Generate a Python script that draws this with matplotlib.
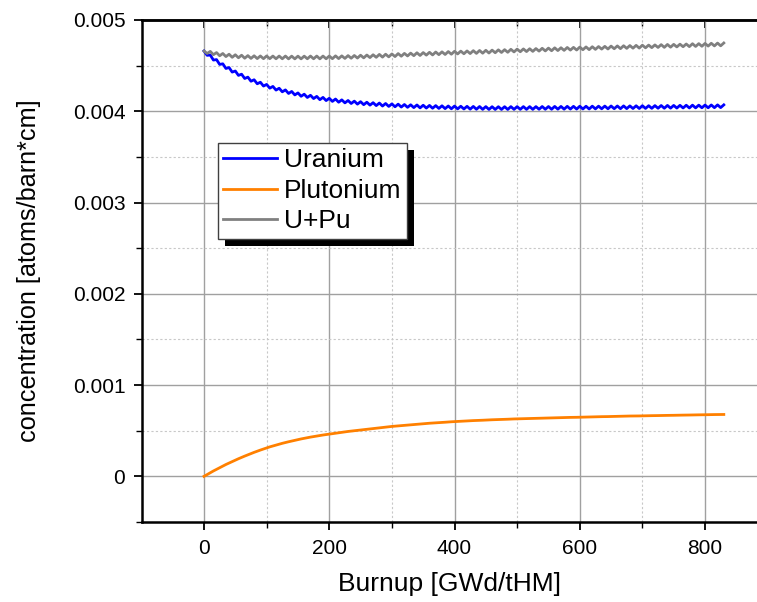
import numpy as np
import matplotlib
matplotlib.use('Agg')
import matplotlib.pyplot as plt
from matplotlib.patches import Rectangle
from matplotlib.transforms import IdentityTransform
from matplotlib.ticker import MultipleLocator, FuncFormatter

plt.rcParams['font.family'] = ['Liberation Sans', 'DejaVu Sans']

# concentrations in 1e-6 atoms/barn*cm, one value every 5 GWd/tHM (0 ... 830)
burnup_step = 5
uranium = [
    4660, 4613, 4616, 4561, 4566, 4513, 4520, 4469, 4479, 4429,
    4441, 4393, 4406, 4359, 4374, 4329, 4345, 4301, 4318, 4276,
    4294, 4253, 4272, 4232, 4252, 4213, 4234, 4195, 4217, 4179,
    4201, 4164, 4187, 4151, 4175, 4139, 4163, 4127, 4152, 4117,
    4142, 4108, 4134, 4099, 4125, 4092, 4118, 4085, 4111, 4078,
    4105, 4072, 4099, 4067, 4094, 4062, 4090, 4057, 4085, 4053,
    4081, 4049, 4078, 4046, 4074, 4043, 4071, 4040, 4069, 4037,
    4066, 4035, 4064, 4033, 4062, 4031, 4060, 4029, 4058, 4027,
    4057, 4026, 4055, 4025, 4054, 4023, 4053, 4022, 4052, 4021,
    4051, 4020, 4050, 4020, 4050, 4020, 4050, 4020, 4051, 4021,
    4051, 4021, 4051, 4021, 4051, 4021, 4051, 4022, 4052, 4022,
    4052, 4022, 4053, 4023, 4053, 4023, 4054, 4024, 4054, 4024,
    4055, 4025, 4055, 4025, 4056, 4026, 4056, 4027, 4057, 4027,
    4058, 4028, 4058, 4028, 4059, 4029, 4059, 4030, 4060, 4030,
    4061, 4031, 4061, 4032, 4062, 4033, 4063, 4033, 4064, 4034,
    4064, 4035, 4065, 4036, 4066, 4036, 4067, 4037, 4067, 4038,
    4068, 4038, 4069, 4039, 4070, 4040, 4070,
]
plutonium = [
    0, 20, 40, 59, 77, 95, 113, 130, 146, 162,
    178, 193, 208, 222, 236, 250, 263, 276, 288, 300,
    312, 323, 333, 343, 353, 362, 371, 379, 387, 395,
    403, 410, 417, 424, 430, 436, 442, 447, 453, 458,
    463, 468, 473, 478, 482, 487, 492, 496, 500, 505,
    509, 513, 517, 521, 525, 529, 533, 536, 540, 543,
    547, 550, 554, 557, 560, 563, 566, 569, 572, 574,
    577, 580, 582, 584, 587, 589, 591, 593, 596, 598,
    600, 602, 604, 605, 607, 609, 611, 612, 614, 615,
    617, 618, 620, 621, 623, 624, 625, 626, 628, 629,
    630, 631, 632, 633, 634, 635, 636, 637, 638, 639,
    640, 641, 642, 642, 643, 644, 645, 646, 646, 647,
    648, 649, 650, 650, 651, 652, 653, 654, 654, 655,
    656, 657, 658, 658, 659, 660, 661, 661, 662, 662,
    663, 664, 664, 665, 665, 666, 667, 667, 668, 668,
    669, 670, 670, 671, 671, 672, 673, 673, 674, 674,
    675, 676, 676, 677, 677, 677, 678,
]

burnup = np.arange(len(uranium)) * burnup_step
u = np.array(uranium) * 1e-6
pu = np.array(plutonium) * 1e-6
upu = u + pu

fig = plt.figure(figsize=(7.57, 6.02), dpi=100)
ax = fig.add_axes([0.1876, 0.1329, 1.0 - 0.1876, 0.9668 - 0.1329])

ax.plot(burnup, u, color='#0000ff', lw=2.0, label='Uranium', zorder=3)
ax.plot(burnup, pu, color='#ff8000', lw=2.0, label='Plutonium', zorder=3)
ax.plot(burnup, upu, color='#808080', lw=2.0, label='U+Pu', zorder=3)

ax.set_xlim(-99, 883)
ax.set_ylim(-0.0005, 0.005)

ax.xaxis.set_major_locator(MultipleLocator(200))
ax.xaxis.set_minor_locator(MultipleLocator(100))
ax.yaxis.set_major_locator(MultipleLocator(0.001))
ax.yaxis.set_minor_locator(MultipleLocator(0.0005))
ax.yaxis.set_major_formatter(FuncFormatter(lambda v, p: '0' if abs(v) < 1e-12 else '%.3f' % v))

ax.set_axisbelow(True)
ax.grid(which='major', color='#a0a0a0', lw=1.0, ls='-')
ax.grid(which='minor', color='#c8c8c8', lw=0.8, ls=(0, (2, 2)))

for s in ['left', 'bottom', 'top']:
    ax.spines[s].set_linewidth(1.8)
    ax.spines[s].set_color('black')
ax.spines['right'].set_visible(False)

ax.tick_params(which='major', direction='out', length=6, width=1.3, labelsize=15, pad=6)
ax.tick_params(which='minor', direction='out', length=4, width=1.0)
ax.tick_params(right=False, top=False)

# top axis: ticks pointing inwards, no labels
top = ax.secondary_xaxis('top')
top.xaxis.set_major_locator(MultipleLocator(200))
top.xaxis.set_minor_locator(MultipleLocator(100))
top.tick_params(which='major', direction='in', length=6, width=1.3, labeltop=False)
top.tick_params(which='minor', direction='in', length=4, width=1.0)
top.spines['top'].set_linewidth(1.8)

ax.set_xlabel('Burnup [GWd/tHM]', fontsize=19, labelpad=10)
ax.set_ylabel('concentration [atoms/barn*cm]', fontsize=18.2, labelpad=23)

leg = ax.legend(loc='upper left', bbox_to_anchor=(0.1236, 0.755), borderaxespad=0,
                fontsize=19, frameon=True, fancybox=False, framealpha=1,
                edgecolor='#404040', handlelength=2.05, handletextpad=0.25,
                labelspacing=0.25, borderpad=0.2)
leg.get_frame().set_linewidth(1.0)
leg.set_zorder(5)

# black drop shadow behind the legend box
fig.canvas.draw()
bb = leg.get_frame().get_window_extent(fig.canvas.get_renderer())
shadow = Rectangle((bb.x0 + 7, bb.y0 - 7), bb.width, bb.height, transform=IdentityTransform(),
                   facecolor='black', edgecolor='none', zorder=4.9, clip_on=False)
ax.add_patch(shadow)

fig.savefig('out.png', dpi=100)
